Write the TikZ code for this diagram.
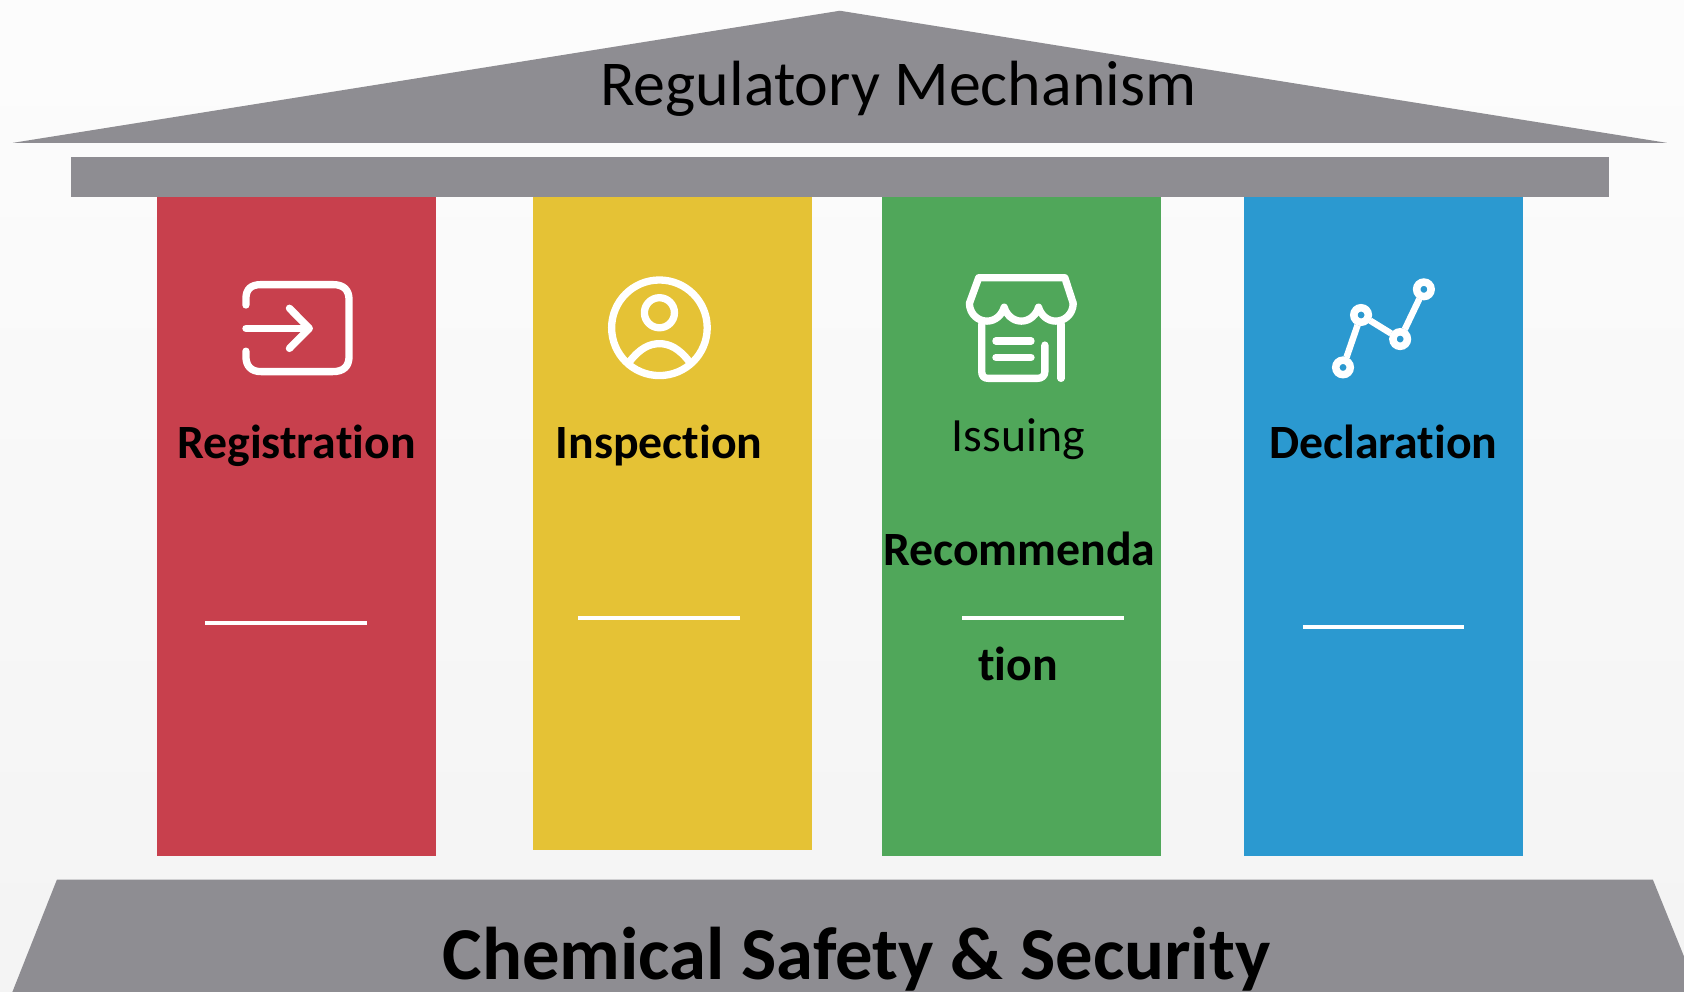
\documentclass[tikz,border=0pt]{standalone}
\usepackage{fontspec}
\setmainfont{Carlito}[RawFeature={-liga;-clig;-dlig}]
\definecolor{slab}{HTML}{8E8D92}
\definecolor{redp}{HTML}{C8404D}
\definecolor{yelp}{HTML}{E5C235}
\definecolor{grnp}{HTML}{50A75A}
\definecolor{blup}{HTML}{2B99D0}
\tikzset{
  x=1pt,y=-1pt,
  slabshape/.style={fill=slab,draw=none},
  icon/.style={draw=white,line width=6.8pt,line cap=round,line join=round},
  rulewhite/.style={draw=white,line width=3.6pt},
  pilltext/.style={anchor=base,inner sep=0pt,font=\fontsize{44.5}{52}\selectfont\bfseries,text=black},
  dot/.style={circle,draw=white,line width=7pt,minimum size=13.5pt,inner sep=0pt,outer sep=3.25pt},
  dotlink/.style={draw=white,line width=6pt}
}
\begin{document}
\begin{tikzpicture}
\useasboundingbox (0,0) rectangle (1568,923);
\clip (0,0) rectangle (1568,923);
\shade[top color=black!1!white,bottom color=black!4.5!white] (0,0) rectangle (1568,923);
% roof, beam, base
\fill[slabshape] (12,133) -- (782,10) -- (1552,133) -- cycle;
\fill[slabshape] (66,146) rectangle (1498,183);
\fill[slabshape] (53,819) -- (1539,819) -- (1584,930) -- (9,930) -- cycle;
% pillars
\fill[redp] (146,183) rectangle (406,797);
\fill[yelp] (496,183) rectangle (756,791.6);
\fill[grnp] (821,183) rectangle (1081,797);
\fill[blup] (1158,183) rectangle (1418,797);
% texts
\node[anchor=base,inner sep=0pt,font=\fontsize{59.5}{70}\selectfont] (roof) at (836.5,98) {Regulatory Mechanism};
\node[anchor=base,inner sep=0pt,font=\fontsize{69.5}{80}\selectfont\bfseries] (base) at (797.5,912) {Chemical Safety \& Security};
\node[pilltext] (reg) at (276,427) {Registration};
\node[pilltext] (ins) at (613.7,427) {Inspection};
\node[pilltext,font=\fontsize{44.5}{52}\selectfont] (iss) at (948,420) {Issuing};
\node[pilltext] (rec) at (949,527) {Recommenda};
\node[pilltext] (tio) at (948,634) {tion};
\node[pilltext] (dec) at (1288,427) {Declaration};
% rules
\draw[rulewhite] (191,580) -- (342,580);
\draw[rulewhite] (538,575.6) -- (689,575.6);
\draw[rulewhite] (896,575.6) -- (1047,575.6);
\draw[rulewhite] (1213,584) -- (1363,584);
% icon 1
\draw[icon] (229,284) -- (229,278) .. controls (229,269) and (234,265) .. (243,265) -- (310,265) .. controls (320,265) and (325,270) .. (325,279) -- (325,332) .. controls (325,341) and (320,346) .. (310,346) -- (243,346) .. controls (234,346) and (229,341) .. (229,332) -- (229,327);
\draw[icon] (229,305.8) -- (287.5,305.8);
\draw[icon] (269.5,287) -- (288,305.8) -- (269.5,324.4);
% icon 2
\draw[icon] (614,305.2) circle (44.5);
\draw[icon] (614,291.2) circle (14);
\draw[icon] (586,337) .. controls (596,324) and (605,320) .. (614,320) .. controls (623,320) and (632,324) .. (642,337);
% icon 3
\draw[icon] (902.6,282.5) -- (911.3,258.6) -- (991.5,258.6) -- (999.3,282.5);
\draw[icon] (902.6,282.5) .. controls (903,293) and (911,299) .. (919,299) .. controls (927,299) and (933,293) .. (935,286) .. controls (937,293) and (943,299) .. (951,299) .. controls (959,299) and (965,293) .. (967,286) .. controls (969,293) and (975,299) .. (983,299) .. controls (991,299) and (999,293) .. (999.3,282.5);
\draw[icon] (914.1,301.7) -- (914.1,346) .. controls (914.1,350) and (916,352.3) .. (920,352.3) -- (966,352.3) .. controls (970,352.3) and (972.9,350) .. (972.9,346) -- (972.9,321.3);
\draw[icon] (987.9,301.7) -- (987.9,352.3);
\draw[icon] (927.3,317.6) -- (960,317.6);
\draw[icon] (927.3,332.8) -- (960,332.8);
% icon 4
\node[dot] (p1) at (1250.5,342.1) {};
\node[dot] (p2) at (1267.3,293.3) {};
\node[dot] (p3) at (1303.7,315.7) {};
\node[dot] (p4) at (1325.8,269.4) {};
\draw[dotlink] (p1) -- (p2);
\draw[dotlink] (p2) -- (p3);
\draw[dotlink] (p3) -- (p4);
\end{tikzpicture}
\end{document}
